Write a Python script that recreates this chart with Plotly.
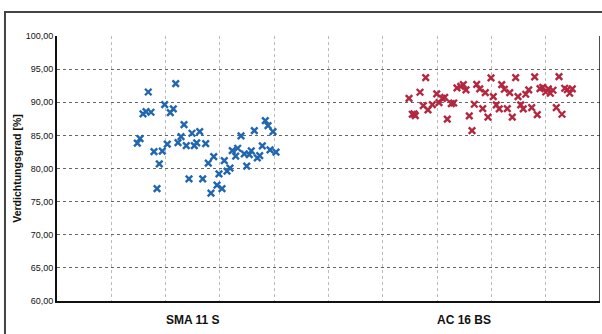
import plotly.graph_objects as go

categories = ["SMA 11 S", "AC 16 BS"]
category_pos = [2.5, 7.5]

sma_x = [1.681, 2.186, 1.983, 2.142, 2.087, 1.584, 1.639, 1.731, 2.339, 1.529,
         1.479, 2.284, 2.486, 2.628, 2.031, 2.228, 2.381, 2.573, 2.529, 2.738,
         1.786, 1.939, 1.884, 1.842, 2.431, 2.683, 2.786, 2.886, 2.983, 2.947,
         2.836, 3.039, 3.081, 3.131, 3.186, 3.228, 3.328, 3.291, 3.389, 3.449,
         3.541, 3.578, 3.494, 3.634, 3.781, 3.689, 3.733, 3.836, 3.886, 3.978,
         3.923, 4.033]
sma_y = [91.55, 92.81, 89.64, 88.99, 88.43, 88.24, 88.58, 88.49, 86.62, 84.51,
         83.82, 84.81, 85.32, 85.57, 83.67, 83.91, 83.45, 83.86, 83.45, 83.76,
         82.55, 82.61, 80.69, 76.97, 78.43, 78.43, 80.80, 81.80, 79.19, 77.48,
         76.27, 76.97, 81.19, 79.59, 80.05, 82.70, 83.06, 81.86, 84.92, 82.20,
         82.10, 82.65, 80.35, 85.72, 83.41, 81.60, 81.95, 87.22, 86.47, 85.57,
         82.81, 82.46]

ac_x = [6.790, 6.483, 6.685, 6.543, 6.599, 6.575, 6.746, 6.832, 6.912, 6.993,
        7.035, 7.096, 7.140, 7.188, 7.262, 7.306, 7.366, 7.435, 7.483, 7.532,
        7.593, 7.643, 7.685, 7.729, 7.785, 7.840, 7.888, 7.937, 7.993, 8.035,
        8.090, 8.145, 8.190, 8.238, 8.293, 8.337, 8.385, 8.447, 8.490, 8.540,
        8.587, 8.632, 8.687, 8.742, 8.797, 8.845, 8.895, 8.945, 9.000, 9.048,
        9.085, 9.134, 9.195, 9.245, 9.300, 9.350, 9.398, 9.442, 9.490]
ac_y = [93.71, 90.60, 91.51, 88.19, 87.98, 88.24, 89.49, 88.84, 89.64, 91.25,
        89.94, 90.60, 90.75, 87.44, 89.79, 89.89, 92.16, 92.41, 92.65, 91.86,
        87.93, 85.72, 89.70, 92.71, 92.01, 89.03, 91.45, 87.74, 93.67, 90.84,
        89.59, 88.99, 92.65, 91.96, 89.03, 91.45, 87.74, 93.71, 90.84, 89.59,
        88.99, 91.21, 91.86, 89.19, 93.82, 88.13, 92.05, 92.26, 91.55, 92.01,
        91.36, 91.81, 89.19, 93.86, 88.19, 92.11, 91.90, 91.36, 92.01]

y_ticks = [60, 65, 70, 75, 80, 85, 90, 95, 100]

fig = go.Figure()
fig.add_trace(go.Scatter(x=sma_x, y=sma_y, mode="markers", name=categories[0],
                         marker=dict(symbol="x-thin", size=6.5, color="#2166b0",
                                     line=dict(width=2.4, color="#2166b0"))))
fig.add_trace(go.Scatter(x=ac_x, y=ac_y, mode="markers", name=categories[1],
                         marker=dict(symbol="x-thin", size=6.5, color="#b3273f",
                                     line=dict(width=2.4, color="#b3273f"))))

for c, p in zip(categories, category_pos):
    fig.add_annotation(x=p, y=-0.072, xref="x", yref="paper", text="<b>" + c + "</b>",
                       showarrow=False, font=dict(size=12, color="#111"),
                       xanchor="center", yanchor="middle")

# outer chart frame
fig.add_shape(type="rect", xref="paper", yref="paper",
              x0=-0.0958, x1=1.03, y0=-0.2, y1=1.0906,
              line=dict(color="#444", width=2), layer="below")
# right border of plot area
fig.add_shape(type="line", xref="x", yref="y", x0=10, x1=10, y0=60, y1=100,
              line=dict(color="#111", width=1.5))

fig.update_layout(
    width=602, height=334,
    margin=dict(l=57, r=2, t=36, b=33),
    paper_bgcolor="white", plot_bgcolor="white",
    showlegend=False,
    separators=",.",
    font=dict(family="Liberation Sans, Arial, sans-serif", color="#111"),
    xaxis=dict(range=[0, 10], dtick=1, tick0=0, showticklabels=False,
               showgrid=True, gridcolor="#bbbbbb", griddash="dot", gridwidth=1,
               showline=True, linecolor="#111", linewidth=2, zeroline=False,
               ticks=""),
    yaxis=dict(range=[60, 100], tickvals=y_ticks, tickformat=".2f",
               tickfont=dict(size=9), showgrid=True, gridcolor="#666666",
               griddash="dot", gridwidth=1.3, showline=True, linecolor="#111",
               linewidth=2, zeroline=False, ticks="",
               title=dict(text="<b>Verdichtungsgrad [%]</b>", font=dict(size=10.5),
                          standoff=2)),
)

fig.write_html("out.html")
